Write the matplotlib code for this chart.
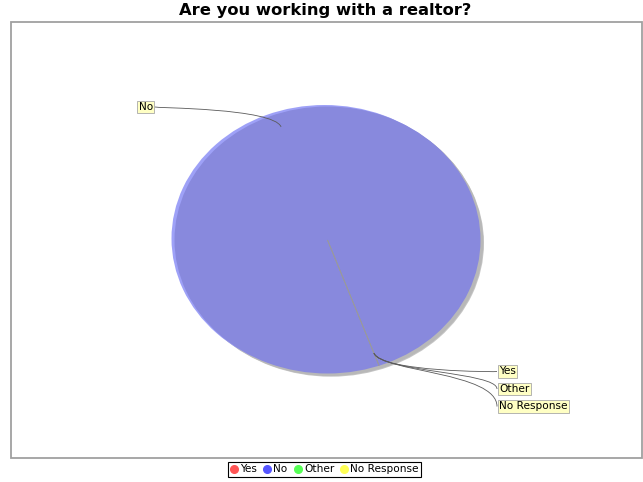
import numpy as np
import matplotlib
matplotlib.use("Agg")
import matplotlib.pyplot as plt
import matplotlib.transforms as mtransforms
from matplotlib.patches import PathPatch, Rectangle
from matplotlib.path import Path
from matplotlib.lines import Line2D

# ---- data ----
title = "Are you working with a realtor?"
categories = ["Yes", "No", "Other", "No Response"]
values = [0, 100, 0, 0]
legend_colors = ["#ff5555", "#5555ff", "#55ff55", "#ffff55"]
pie_colors = ["#e88a8a", "#8889dd", "#8add8a", "#dddd89"]
start_angle = -70.3

# ---- layout (pixels) ----
W, H = 643, 482
CX, CY, RX, RY = 327.5, 240.0, 153.0, 133.5
AX_L, AX_R, AX_T, AX_B = 10.5, 641.5, 21.5, 457.5
label_layout = {  # box anchor (x, y) in pixels, side
    "No": (155, 107, "left"),
    "Yes": (497, 371.5, "right"),
    "Other": (497, 389, "right"),
    "No Response": (497, 406.5, "right"),
}

def P(px, py):
    return ((px - CX) / RX, (CY - py) / RY)

fig = plt.figure(figsize=(W / 100, H / 100), dpi=100)
fig.patch.set_facecolor("white")
ax = fig.add_axes([AX_L / W, 1 - AX_B / H, (AX_R - AX_L) / W, (AX_B - AX_T) / H])

wedges, _ = ax.pie(values, colors=pie_colors, startangle=start_angle,
                   counterclock=False, radius=1.0)
ax.set_aspect("auto")
ax.set_frame_on(False)
ax.set_xlim((AX_L - CX) / RX, (AX_R - CX) / RX)
ax.set_ylim((CY - AX_B) / RY, (CY - AX_T) / RY)
ax.set_xticks([]); ax.set_yticks([])

# plot border
fig.patches.append(Rectangle((AX_L / W, 1 - AX_B / H), (AX_R - AX_L) / W,
                             (AX_B - AX_T) / H, transform=fig.transFigure,
                             fill=False, edgecolor="#a0a0a0", linewidth=1.3,
                             zorder=10))

def offset_copy(w, dx_px, dy_px, color, z):
    tr = ax.transData + mtransforms.ScaledTranslation(dx_px / 100, dy_px / 100,
                                                      fig.dpi_scale_trans)
    p = PathPatch(w.get_path(), transform=tr, facecolor=color, edgecolor="none",
                  zorder=z)
    ax.add_patch(p)

for w, v in zip(wedges, values):
    if v > 0:
        w.set_linewidth(0)
        w.set_zorder(3)
        offset_copy(w, 3.5, -3.2, "#c6c6c6", 1)
        offset_copy(w, 2.8, -2.5, "#b8b8b8", 1.1)
        offset_copy(w, -3.0, 1.5, "#9ea1f7", 2)
    else:
        w.set_edgecolor("#9a9a9a")
        w.set_linewidth(0.5)
        w.set_zorder(4)

# labels with curved links
for w, cat in zip(wedges, categories):
    mid = np.deg2rad((w.theta1 + w.theta2) / 2)
    c, s = np.cos(mid), np.sin(mid)
    p0 = (0.9 * c, 0.9 * s)
    p1 = (1.05 * c, 1.05 * s)
    bx, by, side = label_layout[cat]
    lx, ly = P(bx, by)
    p2 = (lx, p1[1])
    p3 = (lx, ly)
    path = Path([p0, p1, p2, p3], [Path.MOVETO, Path.CURVE4, Path.CURVE4, Path.CURVE4])
    ax.add_patch(PathPatch(path, fc="none", ec="#5a5a5a", lw=0.6, zorder=5))
    if side == "right":
        tx, _ = P(bx + 2, by)
        ha = "left"
    else:
        tx, _ = P(bx - 2, by)
        ha = "right"
    ax.text(tx, ly, cat, ha=ha, va="center", fontsize=7.6, color="black", zorder=6,
            bbox=dict(boxstyle="square,pad=0.13", fc="#ffffc4", ec="#a8a8a8", lw=0.6))

fig.text(325 / W, 1 - 10.5 / H, title, ha="center", va="center",
         fontsize=11.8, fontweight="heavy")

handles = [Line2D([], [], marker="o", linestyle="none", markersize=5.5,
                  markerfacecolor=c, markeredgecolor=c) for c in legend_colors]
leg = fig.legend(handles, categories, ncol=4, loc="center",
                 bbox_to_anchor=(324.5 / W, 1 - 469.5 / H), frameon=True,
                 fancybox=False, edgecolor="black", framealpha=1, fontsize=7.6,
                 handlelength=0.7, handletextpad=0.25, columnspacing=0.6,
                 borderpad=0.22, borderaxespad=0)
leg.get_frame().set_linewidth(0.8)

fig.savefig("out.png", dpi=100, facecolor="white")
